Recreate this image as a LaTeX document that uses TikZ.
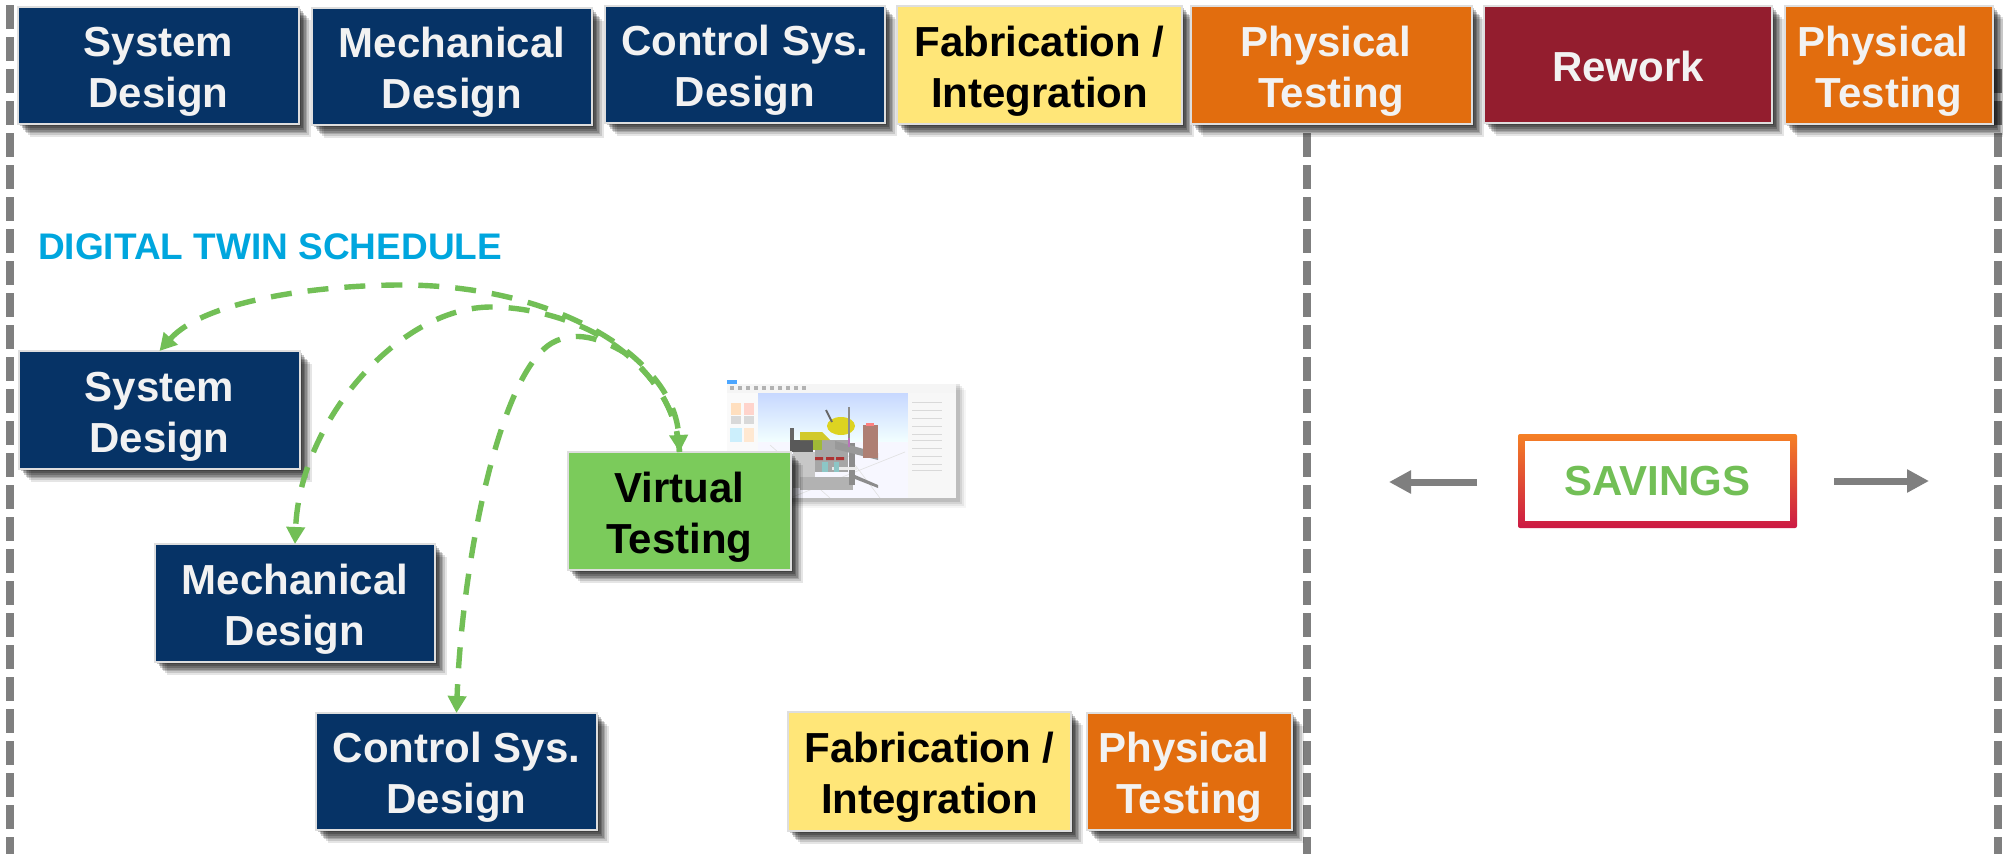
\documentclass[tikz,border=0pt]{standalone}
\usepackage{fontspec}
\setmainfont{Liberation Sans}
\usetikzlibrary{arrows.meta,calc}
\definecolor{navy}{HTML}{063366}
\definecolor{tstorange}{HTML}{E26D0E}
\definecolor{rework}{HTML}{931D2E}
\definecolor{fabyellow}{HTML}{FFE678}
\definecolor{virtgreen}{HTML}{7BCB5B}
\definecolor{arcgreen}{HTML}{72BF56}
\definecolor{titleblue}{HTML}{00A6DE}
\definecolor{dashgray}{HTML}{7F7F7F}
\definecolor{savtop}{HTML}{F58025}
\definecolor{savbot}{HTML}{CC1A44}
\pgfdeclarelayer{under}
\pgfdeclarelayer{shade}
\pgfsetlayers{under,shade,main}
\newcommand{\boxlines}[1]{\raisebox{-13pt}[0pt][0pt]{\begin{tabular}{@{}c@{}}#1\end{tabular}}}
\tikzset{
  taskbox/.style={draw=black!13,line width=1.5pt,inner sep=0pt,outer sep=0pt,
    font=\fontsize{42}{51}\selectfont\bfseries},
  navybox/.style={taskbox,fill=navy,text=white!95!black},
  testbox/.style={taskbox,fill=tstorange,text=white!95!black},
  reworkbox/.style={taskbox,fill=rework,text=white!95!black},
  fabbox/.style={taskbox,fill=fabyellow,text=black},
  virtbox/.style={taskbox,fill=virtgreen,text=black},
  partition/.style={draw=dashgray,line width=8pt,dash pattern=on 24pt off 8pt},
  loopline/.style={draw=arcgreen,line width=5.4pt,dash pattern=on 21pt off 16pt,
    -{Stealth[length=17pt,width=18pt,inset=0pt]}},
  sideline/.style={draw=dashgray,line width=7pt,-{Triangle[length=22pt,width=22pt]}},
}
\begin{document}
\begin{tikzpicture}[x=1pt,y=-1pt]
\useasboundingbox (0,0) rectangle (2003,854);
\begin{pgfonlayer}{under}
\fill[white] (0,0) rectangle (2003,854);
% partitions
\coordinate (lt) at (10,5);   \coordinate (lb) at (10,854);
\coordinate (mt) at (1307,133); \coordinate (mb) at (1307,854);
\coordinate (rt) at (1998,69); \coordinate (rb) at (1998,854);
\draw[partition] (lt) -- (lb);
\draw[partition] (mt) -- (mb);
\draw[partition] (rt) -- (rb);

% software screenshot, drawn as shapes
\foreach \s/\o in {10/.04,8/.06,6/.08,4/.10}
  \fill[black,fill opacity=\o] (727+\s,380+\s) rectangle (956+\s,498+\s);
\fill[white] (727,380) rectangle (956,498);
\fill[blue!50!cyan!70] (727,380) rectangle (737,384);
\fill[black!4] (727,384) rectangle (956,393);
\foreach \i in {730,738,746,754,762,770,778,786,794,802}
  \fill[black!30] (\i,386) rectangle ++(4,4);
\shade[top color=cyan!30!blue!22!white,bottom color=cyan!5!white] (758,393) rectangle (908,442);
\fill[blue!3!white] (758,442) rectangle (908,498);
\fill[black!2] (727,393) rectangle (758,498);
\fill[orange!25] (731,403) rectangle (741,415);
\fill[orange!30!red!20] (744,403) rectangle (754,415);
\fill[black!15] (731,416) rectangle (741,424);
\fill[black!15] (744,416) rectangle (754,424);
\fill[cyan!20] (730,428) rectangle (742,442);
\fill[orange!18] (744,428) rectangle (754,442);
\fill[black!3] (908,393) rectangle (956,498);
\foreach \y in {402,410,418,426,434,440,448,456,464,470}
  \fill[black!15] (912,\y) rectangle ++(30,1.4);
\draw[black!12,line width=.6pt] (790,498) -- (905,452) (830,498) -- (770,445) (880,498) -- (840,445);
% robot cell
\fill[black!35] (815,440) rectangle (848,472);
\fill[black!65] (790,440) rectangle (813,452);
\fill[black!60] (790,428) rectangle (794,440);
\fill[black!22] (793,452) rectangle (815,488);
\fill[black!30] (800,477) rectangle (853,490);
\fill[black!45] (849,443) rectangle (855,485);
\fill[black!45] (855,475) -- (878,485) -- (878,488) -- (855,479) -- cycle;
\fill[black!40] (835,441) -- (878,453) -- (878,460) -- (835,449) -- cycle;
\fill[black!8] (832,467) rectangle (857,470);
\fill[red!60!black!80] (815,457) rectangle (823,460) (826,457) rectangle (834,460) (836,457) rectangle (844,460);
\fill[teal!45] (822,462) rectangle (828,472);
\fill[teal!45] (834,462) rectangle (839,472);
\fill[yellow!80!black] (800,432) -- (822,432) -- (830,440) -- (800,440) -- cycle;
\fill[yellow!70!green!80!black] (813,440) rectangle (822,450);
\fill[yellow!85!black] (841,426) ellipse [x radius=14,y radius=9];
\draw[black!60,line width=2pt] (826,410) -- (832,422);
\draw[black!45,line width=2.5pt] (849,407) -- (849,438);
\draw[violet!55,line width=2.5pt] (849,438) -- (849,447);
\fill[brown!60!red!55!black!60] (863,425) rectangle (878,458);
\fill[red!50] (866,423) rectangle (874,426);
\end{pgfonlayer}

% top schedule
\node[navybox,minimum width=281pt,minimum height=117pt] (tsys) at (158.5,65.5) {\boxlines{System\\Design}};
\node[navybox,minimum width=280pt,minimum height=117pt] (tmec) at (452,66.5) {\boxlines{Mechanical\\Design}};
\node[navybox,minimum width=280pt,minimum height=117pt] (tctl) at (745,64.5) {\boxlines{Control Sys.\\Design}};
\node[fabbox,minimum width=285pt,minimum height=118pt] (tfab) at (1039.5,65) {\boxlines{Fabrication /\\Integration}};
\node[testbox,minimum width=281pt,minimum height=118pt] (ttst) at (1331.5,65) {\boxlines{Physical\kern11.7pt\\Testing}};
\node[reworkbox,minimum width=288pt,minimum height=117pt] (trew) at (1628,64.5) {\boxlines{Rework}};
\node[testbox,minimum width=208pt,minimum height=118pt] (ttst2) at (1889,65) {\boxlines{Physical\kern11.7pt\\Testing}};

\node[anchor=west,inner sep=0pt,text=titleblue,font=\fontsize{37}{40}\selectfont\bfseries] (title) at (38,247) {DIGITAL TWIN SCHEDULE};

% digital twin schedule
\node[navybox,minimum width=281pt,minimum height=118pt] (dsys) at (159.5,410) {\boxlines{System\\Design}};
\node[navybox,minimum width=280pt,minimum height=118pt] (dmec) at (295,603) {\boxlines{Mechanical\\Design}};
\node[navybox,minimum width=281pt,minimum height=117pt] (dctl) at (456.5,771.5) {\boxlines{Control Sys.\\Design}};
\node[virtbox,minimum width=223pt,minimum height=118pt] (virt) at (679.5,511) {\boxlines{Virtual\\Testing}};
\node[fabbox,minimum width=283pt,minimum height=119pt] (dfab) at (929.5,771.5) {\boxlines{Fabrication /\\Integration}};
\node[testbox,minimum width=205pt,minimum height=117pt] (dtst) at (1189.5,771.5) {\boxlines{Physical\kern11.7pt\\Testing}};

% soft shadows under the boxes
\begin{pgfonlayer}{shade}
\foreach \n in {tsys,tmec,tctl,tfab,ttst,trew,ttst2,dsys,dmec,dctl,virt,dfab,dtst}
  \foreach \sx/\sy/\sa in {12/13/.10,10/11/.13,8/9/.16,6.5/7.5/.18,5/6/.20,3.5/4/.22,2/2/.22}
    \fill[black,opacity=\sa] ($(\n.north west)+(\sx pt,-\sy pt)$) rectangle ($(\n.south east)+(\sx pt,-\sy pt)$);
\end{pgfonlayer}

\draw[loopline,{Stealth[length=17pt,width=18pt,inset=0pt]}-{Stealth[length=17pt,width=18pt,inset=0pt]}]
   (dsys.north) .. controls (205,300) and (320,285) .. (402,285)
   .. controls (560,285) and (675,360) .. (virt.north);
\draw[loopline] (virt.north) .. controls (677.4,414) and (658,380.4) .. (625,353)
   .. controls (585,320) and (530,307) .. (491,307)
   .. controls (400,307) and (300,420) .. (dmec.north);
\draw[loopline] (virt.north) .. controls (677.4,414) and (658,380.4) .. (625,353)
   .. controls (600,338) and (575,330) .. (552,343)
   .. controls (500,373) and (462,560) .. (dctl.north);

% savings
\node[top color=savtop,bottom color=savbot,inner sep=0pt,outer sep=0pt,rounded corners=2pt,
  minimum width=279pt,minimum height=94pt] (savbg) at (1657.5,481) {};
\node[fill=white,inner sep=0pt,minimum width=265pt,minimum height=80pt,text=arcgreen,
  font=\fontsize{42}{45}\selectfont\bfseries] (sav) at (savbg.center) {\raisebox{-5pt}{SAVINGS}};
\coordinate (al0) at (1477,482); \coordinate (al1) at (1389,482);
\coordinate (ar0) at (1834,481); \coordinate (ar1) at (1929,481);
\draw[sideline] (al0) -- (al1);
\draw[sideline] (ar0) -- (ar1);
\end{tikzpicture}
\end{document}
